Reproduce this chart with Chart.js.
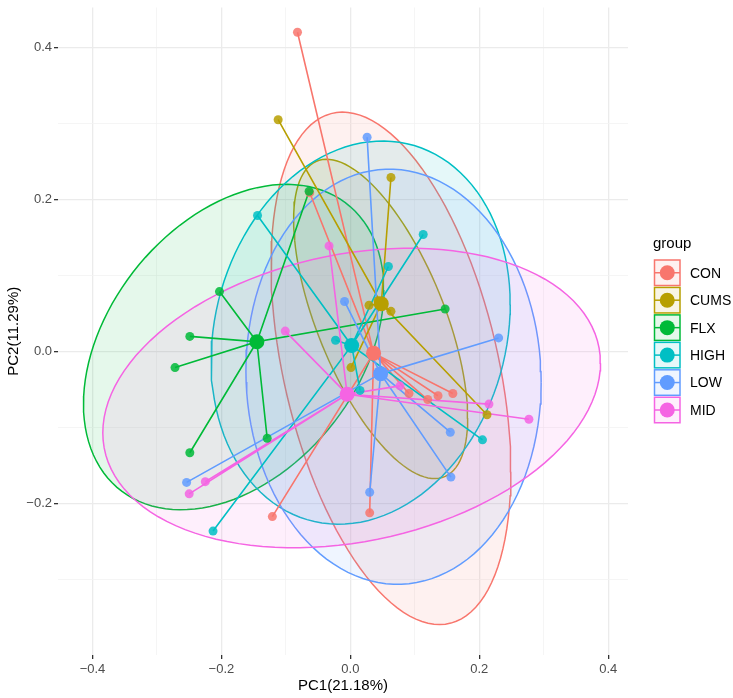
<!DOCTYPE html>
<html>
<head>
<meta charset="utf-8">
<script src="https://cdn.jsdelivr.net/npm/chart.js@4.4.1/dist/chart.umd.min.js"></script>
<style>
  html, body { margin: 0; padding: 0; background: #fff; }
</style>
</head>
<body>
<canvas id="pcaChart" width="733" height="698"></canvas>
<script>
const groups = ["CON", "CUMS", "FLX", "HIGH", "LOW", "MID"];
const groupColors = ["#F8766D", "#B79F00", "#00BA38", "#00BFC4", "#619CFF", "#F564E3"];

// sample scores (PC1, PC2) per group
const conPC1 = [-0.082, -0.063, -0.121, 0.030, 0.091, 0.120, 0.136, 0.159];
const conPC2 = [0.420, 0.209, -0.217, -0.212, -0.055, -0.063, -0.058, -0.055];
const cumsPC1 = [-0.112, 0.063, 0.029, 0.043, 0.063, 0.001, 0.212];
const cumsPC2 = [0.305, 0.229, 0.061, 0.067, 0.053, -0.021, -0.083];
const flxPC1 = [-0.064, -0.203, -0.249, -0.272, -0.249, -0.129, 0.147];
const flxPC2 = [0.211, 0.079, 0.020, -0.021, -0.133, -0.114, 0.056];
const highPC1 = [-0.144, 0.113, 0.059, -0.023, 0.015, 0.205, -0.213];
const highPC2 = [0.179, 0.154, 0.112, 0.015, -0.051, -0.116, -0.236];
const lowPC1 = [0.026, -0.009, 0.230, 0.155, 0.156, 0.030, -0.254];
const lowPC2 = [0.282, 0.066, 0.018, -0.106, -0.165, -0.185, -0.172];
const midPC1 = [-0.033, -0.101, -0.225, -0.250, 0.077, 0.215, 0.277];
const midPC2 = [0.139, 0.027, -0.171, -0.187, -0.045, -0.069, -0.089];

// group centroids
const centroidPC1 = [0.036, 0.048, -0.145, 0.002, 0.047, -0.005];
const centroidPC2 = [-0.002, 0.063, 0.013, 0.008, -0.029, -0.056];

// confidence ellipses: centre, half-width on PC1, half-height on PC2, covariance term
const ellipseCx = [0.063, 0.047, -0.181, 0.016, 0.067, 0.002];
const ellipseCy = [-0.022, 0.043, 0.006, 0.025, -0.033, -0.061];
const ellipseW = [0.186, 0.135, 0.233, 0.232, 0.229, 0.386];
const ellipseH = [0.337, 0.210, 0.214, 0.252, 0.273, 0.197];
const ellipseK = [-0.0253, -0.0176, 0.0175, 0.0086, -0.0017, 0.0177];

const xLabel = "PC1(21.18%)";
const yLabel = "PC2(11.29%)";

const groupPC1 = [conPC1, cumsPC1, flxPC1, highPC1, lowPC1, midPC1];
const groupPC2 = [conPC2, cumsPC2, flxPC2, highPC2, lowPC2, midPC2];

const FONT = '"Liberation Sans", Arial, sans-serif';

function rgba(hex, a) {
  const n = parseInt(hex.slice(1), 16);
  return `rgba(${(n >> 16) & 255}, ${(n >> 8) & 255}, ${n & 255}, ${a})`;
}

function ellipsePath(i) {
  const pts = [];
  const w = ellipseW[i];
  const kw = ellipseK[i] / w;
  const r = Math.sqrt(ellipseH[i] * ellipseH[i] - kw * kw);
  for (let s = 0; s <= 120; s++) {
    const t = (s / 120) * 2 * Math.PI;
    pts.push({
      x: ellipseCx[i] + w * Math.cos(t),
      y: ellipseCy[i] + kw * Math.cos(t) + r * Math.sin(t)
    });
  }
  return pts;
}

const datasets = [];
groups.forEach((g, i) => {
  const col = groupColors[i];
  const c = { x: centroidPC1[i], y: centroidPC2[i] };
  const samples = groupPC1[i].map((x, j) => ({ x, y: groupPC2[i][j] }));

  // ellipse (bottom layer)
  datasets.push({
    label: g + " ellipse",
    data: ellipsePath(i),
    showLine: true,
    pointRadius: 0,
    borderColor: col,
    borderWidth: 1.5,
    backgroundColor: rgba(col, 0.1),
    fill: "shape",
    order: 30 + (5 - i)
  });

  // spider lines from centroid
  datasets.push({
    label: g + " links",
    data: samples.flatMap(p => [c, p]),
    showLine: true,
    pointRadius: 0,
    borderColor: col,
    borderWidth: 1.6,
    fill: false,
    order: 20 + (5 - i)
  });

  // samples
  datasets.push({
    label: g,
    data: samples,
    pointRadius: 4.5,
    pointBackgroundColor: rgba(col, 0.85),
    pointBorderWidth: 0,
    order: 10 + (5 - i)
  });

  // centroid
  datasets.push({
    label: g + " centre",
    data: [c],
    pointRadius: 7.5,
    pointBackgroundColor: col,
    pointBorderWidth: 0,
    order: 5 - i
  });
});

const isMajor = v => Math.round(v * 10) % 2 === 0;
const fmt = v => {
  const s = Math.abs(v).toFixed(1);
  return Math.round(v * 10) < 0 ? "\u2212" + s : s;
};

function axisGrid() {
  return {
    color: ctx => isMajor(ctx.tick.value) ? "#EBEBEB" : "#F2F2F2",
    lineWidth: ctx => isMajor(ctx.tick.value) ? 1.3 : 0.8,
    tickColor: ctx => isMajor(ctx.tick.value) ? "#333333" : "rgba(0,0,0,0)",
    tickLength: 4,
    tickWidth: 1.3
  };
}

// legend drawn to the right of the panel
const groupLegend = {
  id: "groupLegend",
  afterDraw(chart) {
    const c = chart.ctx;
    c.save();
    c.fillStyle = "#000";
    c.font = "15px " + FONT;
    c.textBaseline = "alphabetic";
    c.fillText("group", 653, 248);
    c.font = "14px " + FONT;
    c.textBaseline = "middle";
    groups.forEach((g, i) => {
      const col = groupColors[i];
      const left = 654.5, top = 260 + i * 27.45, size = 25.5;
      const cy = top + size / 2;
      c.fillStyle = rgba(col, 0.1);
      c.fillRect(left, top, size, size);
      c.strokeStyle = col;
      c.lineWidth = 1.5;
      c.strokeRect(left, top, size, size);
      c.beginPath();
      c.moveTo(left, cy);
      c.lineTo(left + size, cy);
      c.stroke();
      c.beginPath();
      c.arc(left + size / 2, cy, 7.5, 0, 2 * Math.PI);
      c.fillStyle = col;
      c.fill();
      c.fillStyle = "#000";
      c.fillText(g, 690, cy + 1);
    });
    c.restore();
  }
};

new Chart(document.getElementById("pcaChart"), {
  type: "scatter",
  data: { datasets },
  plugins: [groupLegend],
  options: {
    responsive: false,
    animation: false,
    events: [],
    layout: { padding: { top: 2, right: 105, left: 0, bottom: 0 } },
    plugins: {
      legend: { display: false },
      tooltip: { enabled: false }
    },
    scales: {
      x: {
        type: "linear",
        min: -0.4535,
        max: 0.4307,
        afterFit: s => { s.height = 43; s.paddingLeft = 0; s.paddingRight = 0; },
        border: { display: false },
        grid: axisGrid(),
        ticks: {
          stepSize: 0.1,
          includeBounds: false,
          autoSkip: false,
          maxRotation: 0,
          padding: 3,
          color: "#4D4D4D",
          font: { family: FONT, size: 13 },
          callback: v => isMajor(v) ? fmt(v) : ""
        },
        title: {
          display: true,
          text: xLabel,
          color: "#000",
          font: { family: FONT, size: 15 },
          padding: { top: 0, bottom: 3 }
        }
      },
      y: {
        type: "linear",
        min: -0.399,
        max: 0.4526,
        afterFit: s => { s.width = 58; s.paddingTop = 0; s.paddingBottom = 0; },
        border: { display: false },
        grid: axisGrid(),
        ticks: {
          stepSize: 0.1,
          includeBounds: false,
          autoSkip: false,
          padding: 2,
          color: "#4D4D4D",
          font: { family: FONT, size: 13 },
          callback: v => isMajor(v) ? fmt(v) : ""
        },
        title: {
          display: true,
          text: yLabel,
          color: "#000",
          font: { family: FONT, size: 15 },
          padding: { top: 5, bottom: 0 }
        }
      }
    }
  }
});
</script>
</body>
</html>
